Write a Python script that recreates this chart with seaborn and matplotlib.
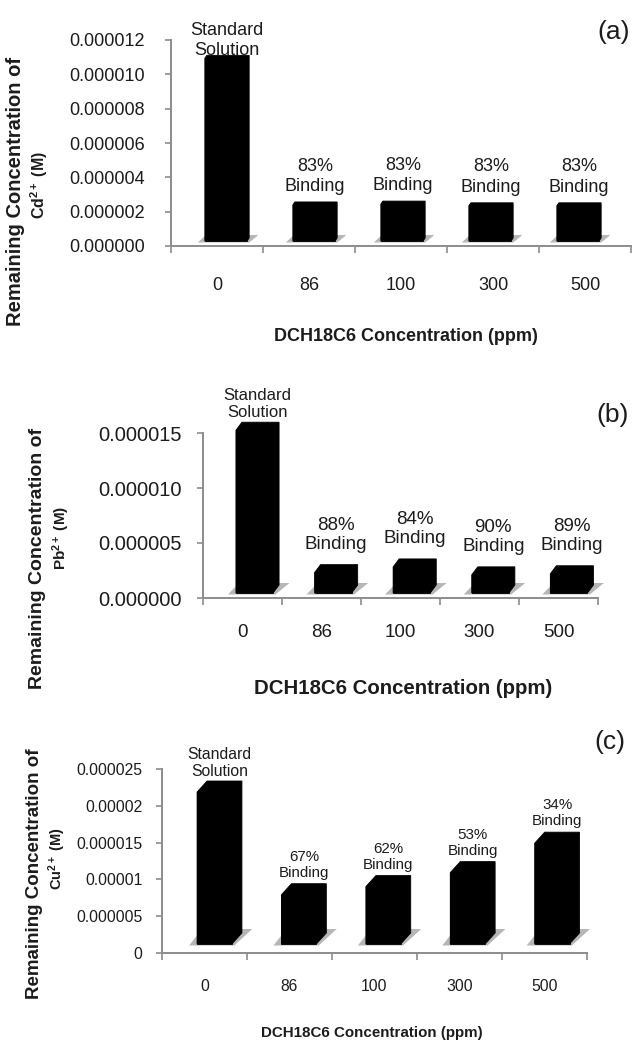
import matplotlib
matplotlib.use("Agg")
import matplotlib.pyplot as plt
import seaborn as sns
import pandas as pd
from matplotlib import font_manager
from matplotlib.patches import Polygon
from matplotlib.transforms import ScaledTranslation

# ---------------- data ----------------
concentrations = ["0", "86", "100", "300", "500"]

cd_remaining = [1.064e-5, 2.10e-6, 2.15e-6, 2.05e-6, 2.05e-6]
pb_remaining = [1.48e-5, 1.85e-6, 2.37e-6, 1.65e-6, 1.75e-6]
cu_remaining = [2.065e-5, 6.7e-6, 7.8e-6, 9.7e-6, 1.37e-5]

cd_labels = ["Standard\nSolution", "83%\nBinding", "83%\nBinding", "83%\nBinding", "83%\nBinding"]
pb_labels = ["Standard\nSolution", "88%\nBinding", "84%\nBinding", "90%\nBinding", "89%\nBinding"]
cu_labels = ["Standard\nSolution", "67%\nBinding", "62%\nBinding", "53%\nBinding", "34%\nBinding"]

cd_yticks = [0, 2e-6, 4e-6, 6e-6, 8e-6, 10e-6, 12e-6]
cd_yticklabels = ["0.000000", "0.000002", "0.000004", "0.000006", "0.000008", "0.000010", "0.000012"]
pb_yticks = [0, 5e-6, 10e-6, 15e-6]
pb_yticklabels = ["0.000000", "0.000005", "0.000010", "0.000015"]
cu_yticks = [0, 5e-6, 10e-6, 15e-6, 20e-6, 25e-6]
cu_yticklabels = ["0", "0.000005", "0.00001", "0.000015", "0.00002", "0.000025"]

x_title = "DCH18C6 Concentration (ppm)"
y_title = "Remaining Concentration of"
cd_unit = r"Cd$^{\mathbf{2+}}$ (M)"
pb_unit = r"Pb$^{\mathbf{2+}}$ (M)"
cu_unit = r"Cu$^{\mathbf{2+}}$ (M)"

# ---------------- style ----------------
sns.set_theme(style="white")
plt.rcParams["font.family"] = ["Liberation Sans", "DejaVu Sans"]
plt.rcParams["mathtext.fontset"] = "custom"
plt.rcParams["mathtext.rm"] = "Liberation Sans"
plt.rcParams["mathtext.bf"] = "Liberation Sans:bold"
plt.rcParams["mathtext.it"] = "Liberation Sans:italic"

installed = {f.name for f in font_manager.fontManager.ttflist}
if "Liberation Sans Narrow" in installed:
    NARROW, NSCALE = "Liberation Sans Narrow", 1.0
else:
    NARROW, NSCALE = "Liberation Sans", 0.87

TEXT = "#1c1c1c"
AXIS = "#8c8c8c"
W, H = 634, 1042
fig = plt.figure(figsize=(W / 100, H / 100), dpi=100)
fig.patch.set_facecolor("white")


def rect(left, top, right, bottom):
    return [left / W, 1 - bottom / H, (right - left) / W, (bottom - top) / H]


def ftext(px, py, s, **kw):
    fig.text(px / W, 1 - py / H, s, color=TEXT, ha="center", va="center", **kw)


def draw_panel(box, values, labels, yticks, yticklabels, st):
    ax = fig.add_axes(rect(*box))
    df = pd.DataFrame({"conc": concentrations, "remaining": values})
    sns.barplot(data=df, x="conc", y="remaining", order=concentrations,
                color="black", saturation=1, width=st["width"], errorbar=None,
                linewidth=0, edgecolor="black", ax=ax)
    n = len(concentrations)
    ax.set_xlim(-0.5, n - 0.5)
    ax.set_ylim(yticks[0], yticks[-1])
    ax.set_xlabel("")
    ax.set_ylabel("")
    ax.set_facecolor("none")

    fam = st["family"]
    ax.set_yticks(yticks, labels=yticklabels)
    ax.set_xticks(range(n), labels=concentrations)
    ax.set_xticks([k - 0.5 for k in range(n + 1)], minor=True)
    ax.tick_params(axis="y", which="major", length=4, width=1.2, color=AXIS,
                   pad=st["ypad"], labelsize=st["ytick_size"], labelcolor=TEXT, left=True)
    ax.tick_params(axis="x", which="major", length=0, pad=st["xpad"],
                   labelsize=st["xtick_size"], labelcolor=TEXT, bottom=True)
    ax.tick_params(axis="x", which="minor", length=5, width=1.2, color=AXIS, bottom=True)
    for t in ax.get_xticklabels() + ax.get_yticklabels():
        t.set_family(fam)
    for side in ("top", "right"):
        ax.spines[side].set_visible(False)
    for side in ("left", "bottom"):
        ax.spines[side].set_color(AXIS)
        ax.spines[side].set_linewidth(1.4)

    # 3D-style prisms built on top of the seaborn bars
    dpi = fig.dpi
    to_disp = ax.transData.transform
    to_data = ax.transData.inverted().transform
    bars = list(ax.patches)
    sy, dx, dy = st["sy"], st["dx"], st["dy"]
    e, hs = st["shadow"]
    for i, (bar, lab) in enumerate(zip(bars, labels)):
        s = st["shift0"] + st["shift1"] * i
        bar.set_transform(ax.transData + ScaledTranslation(s / dpi, sy / dpi, fig.dpi_scale_trans))
        bar.set_clip_on(False)
        bar.set_zorder(3)
        bar.set_edgecolor("black")
        bar.set_linewidth(0.5)
        x0 = bar.get_x()
        x1 = x0 + bar.get_width()
        h = bar.get_height()
        (X0, Y0), (X1, Y1) = to_disp([(x0, 0), (x1, h)])
        X0 += s; X1 += s; Y0 += sy; Y1 += sy
        depth = [(X0, Y0), (X1, Y0), (X1 + dx, Y0 + dy), (X1 + dx, Y1 + dy),
                 (X0 + dx, Y1 + dy), (X0, Y1)]
        ax.add_patch(Polygon(to_data(depth), closed=True, fc="black", ec="black",
                             lw=0.6, clip_on=False, zorder=2.9))
        shadow = [(X0 - e, Y0 - 1.5), (X1 + 0.3 * e, Y0 - 1.5),
                  (X1 + dx + 1.3 * e, Y0 + hs), (X0 + 0.5 * dx, Y0 + hs)]
        ax.add_patch(Polygon(to_data(shadow), closed=True, fc="#a4a4a4", ec="none",
                             alpha=0.8, clip_on=False, zorder=2.5))

        gap = st["gap_first"] if i == 0 else st["gap_rest"]
        fs = st["std_size"] if i == 0 else st["ann_size"]
        desc = 0.212 * fs * dpi / 72
        ax.annotate(lab, xy=((x0 + x1) / 2, h), xytext=(s + dx / 2, sy + dy + gap - desc),
                    textcoords="offset pixels", ha="center", va="bottom",
                    fontsize=fs, family=fam, color=TEXT,
                    linespacing=st["linespacing"], annotation_clip=False)
    return ax


panel_a = dict(family="Liberation Sans", width=0.46, dx=2, dy=3, sy=5, shift0=9, shift1=-4,
               shadow=(7, 6), ytick_size=13, xtick_size=13, ypad=15, xpad=22,
               ann_size=13, std_size=13, gap_first=0, gap_rest=11, linespacing=1.25)
panel_b = dict(family="Liberation Sans", width=0.47, dx=6, dy=8, sy=5, shift0=12, shift1=-0.4,
               shadow=(8, 10), ytick_size=14.5, xtick_size=13.5, ypad=11.5, xpad=19,
               ann_size=13.5, std_size=12, gap_first=6, gap_rest=16, linespacing=1.14)
panel_c = dict(family=[NARROW, "Liberation Sans"], width=0.41, dx=10, dy=11, sy=9, shift0=10,
               shift1=-0.6, shadow=(8, 15), ytick_size=13 * NSCALE, xtick_size=13 * NSCALE,
               ypad=10, xpad=19, ann_size=12.5 * NSCALE, std_size=13 * NSCALE,
               gap_first=5, gap_rest=7, linespacing=1.2)

draw_panel((171, 40, 631, 246), cd_remaining, cd_labels, cd_yticks, cd_yticklabels, panel_a)
draw_panel((203, 433, 598, 598), pb_remaining, pb_labels, pb_yticks, pb_yticklabels, panel_b)
draw_panel((162, 769, 587, 953), cu_remaining, cu_labels, cu_yticks, cu_yticklabels, panel_c)

# axis titles
ftext(16, 191, y_title, rotation=90, fontsize=14.5, fontweight="bold")
ftext(39, 185, cd_unit, rotation=90, fontsize=11.5, fontweight="bold")
ftext(38, 558, y_title, rotation=90, fontsize=14, fontweight="bold")
ftext(61, 538, pb_unit, rotation=90, fontsize=11, fontweight="bold")
ftext(35, 874, y_title, rotation=90, fontsize=13.5, fontweight="bold")
ftext(57, 859, cu_unit, rotation=90, fontsize=10.5, fontweight="bold")

ftext(406, 336, x_title, fontsize=13, fontweight="bold")
ftext(403, 688, x_title, fontsize=14.7, fontweight="bold")
ftext(372, 1033, x_title, fontsize=12.5 * NSCALE, fontweight="bold", family=[NARROW, "Liberation Sans"])

# panel letters
ftext(614, 32, "(a)", fontsize=19)
ftext(613, 415, "(b)", fontsize=19)
ftext(610, 742, "(c)", fontsize=19)

fig.savefig("out.png", dpi=100, facecolor="white")
